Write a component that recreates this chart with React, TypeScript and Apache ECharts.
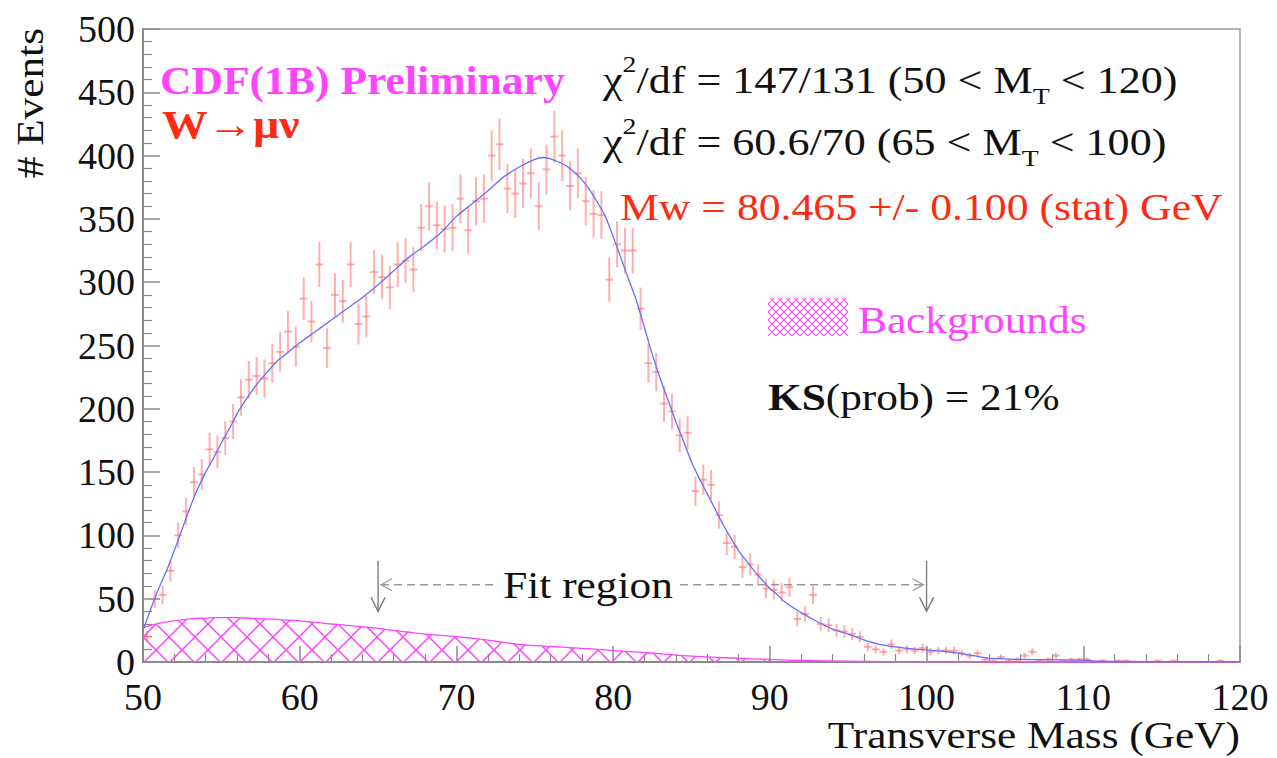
import React, { useEffect, useRef } from 'react';
import * as echarts from 'echarts';

// ---------- DATA ----------
const BIN_START = 50;
const BIN_WIDTH = 0.5;
// event counts per 0.5 GeV bin, 50.0 .. 120.0 GeV
const counts: number[] = [
  20, 50, 53, 72, 100, 119, 142, 148, 168, 166,
  177, 190, 209, 223, 226, 224, 236, 245, 261, 249,
  287, 269, 314, 248, 290, 285, 314, 267, 273, 308,
  304, 296, 314, 317, 310, 343, 360, 345, 342, 343,
  366, 341, 364, 366, 400, 409, 374, 370, 378, 386,
  360, 389, 415, 400, 376, 386, 364, 354, 353, 302,
  330, 325, 325, 279, 236, 229, 204, 198, 179, 181,
  135, 144, 140, 116, 94, 91, 75, 77, 69, 58,
  57, 55, 59, 34, 38, 53, 30, 29, 25, 24,
  22, 20, 12, 10, 8, 14, 9, 10, 9, 11,
  8, 9, 9, 9, 7, 5, 7, 2, 1, 4,
  1, 2, 5, 8, 1, 2, 5, 1, 2, 2,
  2, 0, 1, 0, 1, 1, 0, 0, 0, 1,
  0, 1, 0, 0, 0, 0, 0, 1, 0, 0,
];

// fitted template (blue curve)
const fitX: number[] = [
  50, 50.5, 51, 51.5, 52, 52.5, 53, 53.5, 54, 54.5, 55, 55.5, 56, 56.5, 57, 57.5, 58, 58.5, 59, 59.5,
  60, 61, 62, 63, 64, 65, 66, 67, 68, 69, 70, 71, 72, 73, 74, 75, 75.5, 76, 76.5, 77, 77.5,
  78, 78.5, 79, 79.5, 80, 80.5, 81, 81.5, 82, 82.5, 83, 83.5, 84, 84.5, 85, 85.5, 86, 86.5, 87, 87.5,
  88, 88.5, 89, 89.5, 90, 90.5, 91, 92, 93, 94, 95, 96, 97, 98, 99, 100, 101, 102, 103, 104, 105,
  106, 108, 110, 111, 115, 120,
];
const fitY: number[] = [
  25, 42, 58, 72, 88, 105, 122, 137, 150, 161, 173, 184, 196, 206, 215, 223, 230, 237, 242, 247,
  252, 261, 270, 279, 288, 298, 309, 320, 329, 339, 352, 362, 372, 383, 391, 397, 398.5, 397.5, 395, 392, 387,
  381, 373, 363, 352, 336, 319, 302, 285, 264, 243, 224, 207, 190, 174, 158, 145, 133, 121, 109, 98,
  88, 80, 72, 65, 58, 53, 47, 39, 32, 26, 22, 17.5, 14, 12, 10.5, 9.5, 8.5, 7, 5, 3, 2.5,
  2, 1.8, 1.5, 0.6, 0.3, 0.2,
];

// background estimate (hatched)
const bgX: number[] = [
  50, 51, 52, 53, 54, 55, 56, 57, 58, 59, 60, 61, 62, 63, 64, 65, 66, 67, 68, 69, 70,
  71, 72, 73, 74, 75, 76, 77, 78, 79, 80, 81, 82, 84, 86, 88, 90, 92, 95, 100, 105, 120,
];
const bgY: number[] = [
  27, 30.5, 32.5, 34, 34.7, 35, 35, 34.5, 34, 33.3, 32.5, 31.3, 30, 29, 27.8, 26.5, 25, 23.5, 22, 21, 20,
  18.7, 17.3, 15.5, 14, 13, 12.3, 11.6, 10.8, 10, 9, 8.3, 7.5, 5.5, 4, 3, 2, 1.2, 0.6, 0.2, 0, 0,
];

const X_MIN = 50, X_MAX = 120, X_STEP = 10;
const Y_MIN = 0, Y_MAX = 500, Y_STEP = 50;

// fit region annotation
const fitRegion: number[] = [65, 100];
const ARROW_TOP = 80;
const ARROW_BOTTOM = 40;
const DASH_LEVEL = 61;

const SERIF = '"Liberation Serif", "DejaVu Serif", "Times New Roman", serif';
const MAGENTA = '#ff44ff';
const RED = '#ff2a10';
const STRETCH = 1.14;

function makeHatch(size: number, lineWidth: number, color: string) {
  const c = document.createElement('canvas');
  c.width = size;
  c.height = size;
  const ctx = c.getContext('2d') as CanvasRenderingContext2D;
  ctx.strokeStyle = color;
  ctx.lineWidth = lineWidth;
  ctx.beginPath();
  for (const o of [-size, 0, size]) {
    ctx.moveTo(o - 1, -1);
    ctx.lineTo(o + size + 1, size + 1);
    ctx.moveTo(o + size + 1, -1);
    ctx.lineTo(o - 1, size + 1);
  }
  ctx.stroke();
  return { image: c.toDataURL(), repeat: 'repeat', imageWidth: size, imageHeight: size };
}

export default function App() {
  const ref = useRef<HTMLDivElement>(null);

  useEffect(() => {
    if (!ref.current) return;
    const chart = echarts.init(ref.current, undefined, { renderer: 'svg' });

    const histData = counts
      .map((v, i) => [BIN_START + BIN_WIDTH * (i + 0.5), v])
      .filter((d) => d[1] > 0);
    const fitData = fitX.map((x, i) => [x, fitY[i]]);
    const bgData = bgX.map((x, i) => [x, bgY[i]]);

    const bigHatch = makeHatch(26, 1.5, MAGENTA);
    const smallHatch = makeHatch(8, 1.1, MAGENTA);

    const axisColor = '#8a8a8a';
    const chiRich = {
      b: { fontSize: 38, fontFamily: SERIF, fill: '#111', lineHeight: 56, verticalAlign: 'middle' },
      sup: { fontSize: 24, fontFamily: SERIF, fill: '#111', lineHeight: 56, verticalAlign: 'top' },
      sub: { fontSize: 24, fontFamily: SERIF, fill: '#111', lineHeight: 56, verticalAlign: 'bottom' },
    };

    const option: any = {
      animation: false,
      backgroundColor: '#ffffff',
      grid: {
        left: 143,
        right: 37,
        top: 29,
        bottom: 96,
        show: true,
        borderColor: '#9a9a9a',
        borderWidth: 1.5,
        containLabel: false,
        outerBoundsMode: 'none',
      },
      xAxis: {
        type: 'value',
        min: X_MIN,
        max: X_MAX,
        interval: X_STEP,
        axisLine: { show: true, lineStyle: { color: axisColor, width: 2 } },
        axisTick: { show: true, inside: true, length: 16, lineStyle: { color: axisColor, width: 1.5 } },
        minorTick: { show: true, splitNumber: 5, length: 8, lineStyle: { color: axisColor, width: 1.2 } },
        splitLine: { show: false },
        axisLabel: { fontSize: 38, fontFamily: SERIF, color: '#111', margin: 16 },
      },
      yAxis: {
        type: 'value',
        min: Y_MIN,
        max: Y_MAX,
        interval: Y_STEP,
        axisLine: { show: true, lineStyle: { color: axisColor, width: 2 } },
        axisTick: { show: true, inside: true, length: 17, lineStyle: { color: axisColor, width: 1.5 } },
        minorTick: { show: true, splitNumber: 5, length: 9, lineStyle: { color: axisColor, width: 1.2 } },
        splitLine: { show: false },
        axisLabel: { fontSize: 38, fontFamily: SERIF, color: '#111', margin: 8 },
      },
      series: [
        {
          name: 'Backgrounds',
          type: 'line',
          data: bgData,
          smooth: true,
          symbol: 'none',
          lineStyle: { color: MAGENTA, width: 1.3 },
          areaStyle: { color: bigHatch, opacity: 1 },
          z: 1,
        },
        {
          name: 'data',
          type: 'custom',
          data: histData,
          clip: true,
          z: 2,
          renderItem: (params: any, api: any) => {
            const x = api.value(0);
            const y = api.value(1);
            const err = Math.sqrt(y);
            const c = api.coord([x, y]);
            const t = api.coord([x, y + err]);
            const b = api.coord([x, Math.max(0, y - err)]);
            const l = api.coord([x - BIN_WIDTH / 2, y]);
            const r = api.coord([x + BIN_WIDTH / 2, y]);
            const st = { stroke: 'rgba(255,110,110,0.55)', lineWidth: 2 };
            return {
              type: 'group',
              children: [
                { type: 'line', shape: { x1: c[0], y1: t[1], x2: c[0], y2: b[1] }, style: st },
                { type: 'line', shape: { x1: l[0], y1: c[1], x2: r[0], y2: c[1] }, style: st },
              ],
            };
          },
        },
        {
          name: 'fit',
          type: 'line',
          data: fitData,
          smooth: 0.3,
          symbol: 'none',
          lineStyle: { color: '#6270ff', width: 1.3 },
          z: 3,
        },
        {
          name: 'fitRegion',
          type: 'custom',
          data: [fitRegion],
          clip: false,
          z: 4,
          renderItem: (params: any, api: any) => {
            const lo = api.value(0);
            const hi = api.value(1);
            const st = { stroke: '#777', lineWidth: 1.3, fill: 'none' };
            const dst = { stroke: '#999', lineWidth: 1.3, lineDash: [8, 5], fill: 'none' };
            const children: any[] = [];
            for (const v of [lo, hi]) {
              const top = api.coord([v, ARROW_TOP]);
              const bot = api.coord([v, ARROW_BOTTOM]);
              children.push({ type: 'line', shape: { x1: top[0], y1: top[1], x2: bot[0], y2: bot[1] }, style: st });
              children.push({
                type: 'polyline',
                shape: { points: [[bot[0] - 7, bot[1] - 14], [bot[0], bot[1]], [bot[0] + 7, bot[1] - 14]] },
                style: st,
              });
            }
            const a = api.coord([lo, DASH_LEVEL]);
            const b = api.coord([hi, DASH_LEVEL]);
            children.push({ type: 'line', shape: { x1: a[0] + 3, y1: a[1], x2: b[0] - 3, y2: b[1] }, style: dst });
            children.push({
              type: 'polyline',
              shape: { points: [[a[0] + 14, a[1] - 6], [a[0] + 3, a[1]], [a[0] + 14, a[1] + 6]] },
              style: { stroke: '#999', lineWidth: 1.3, fill: 'none' },
            });
            children.push({
              type: 'polyline',
              shape: { points: [[b[0] - 14, b[1] - 6], [b[0] - 3, b[1]], [b[0] - 14, b[1] + 6]] },
              style: { stroke: '#999', lineWidth: 1.3, fill: 'none' },
            });
            return { type: 'group', children };
          },
        },
      ],
      graphic: [
        {
          type: 'text',
          x: 30,
          y: 28,
          rotation: Math.PI / 2,
          scaleX: STRETCH,
          z: 100,
          style: {
            text: '# Events',
            fontSize: 38,
            fontFamily: SERIF,
            fill: '#111',
            textAlign: 'right',
            textVerticalAlign: 'middle',
          },
        },
        {
          type: 'text',
          x: 1240,
          y: 735,
          scaleX: STRETCH,
          z: 100,
          style: {
            text: 'Transverse Mass (GeV)',
            fontSize: 38,
            fontFamily: SERIF,
            fill: '#111',
            textAlign: 'right',
            textVerticalAlign: 'middle',
          },
        },
        {
          type: 'text',
          x: 160,
          y: 81,
          scaleX: 1.09,
          z: 100,
          style: {
            text: 'CDF(1B) Preliminary',
            fontSize: 40,
            fontWeight: 'bold',
            fontFamily: SERIF,
            fill: MAGENTA,
            textAlign: 'left',
            textVerticalAlign: 'middle',
          },
        },
        {
          type: 'text',
          x: 162,
          y: 124,
          scaleX: STRETCH,
          z: 100,
          style: {
            text: 'W→μν',
            fontSize: 40,
            fontWeight: 'bold',
            fontFamily: SERIF,
            fill: RED,
            textAlign: 'left',
            textVerticalAlign: 'middle',
          },
        },
        {
          type: 'text',
          x: 603,
          y: 80,
          scaleX: 1.16,
          z: 100,
          style: {
            text: '{b|χ}{sup|2}{b|/df = 147/131 (50 < M}{sub|T}{b| < 120)}',
            textAlign: 'left',
            textVerticalAlign: 'middle',
            rich: chiRich,
          },
        },
        {
          type: 'text',
          x: 603,
          y: 142,
          scaleX: 1.16,
          z: 100,
          style: {
            text: '{b|χ}{sup|2}{b|/df = 60.6/70 (65 < M}{sub|T}{b| < 100)}',
            textAlign: 'left',
            textVerticalAlign: 'middle',
            rich: chiRich,
          },
        },
        {
          type: 'text',
          x: 620,
          y: 207,
          scaleX: 1.15,
          z: 100,
          style: {
            text: 'Mw = 80.465 +/- 0.100 (stat) GeV',
            fontSize: 38,
            fontFamily: SERIF,
            fill: RED,
            textAlign: 'left',
            textVerticalAlign: 'middle',
          },
        },
        {
          type: 'rect',
          shape: { x: 768, y: 298, width: 80, height: 38 },
          z: 100,
          style: { fill: smallHatch },
        },
        {
          type: 'text',
          x: 858,
          y: 320,
          scaleX: STRETCH,
          z: 100,
          style: {
            text: 'Backgrounds',
            fontSize: 38,
            fontFamily: SERIF,
            fill: MAGENTA,
            textAlign: 'left',
            textVerticalAlign: 'middle',
          },
        },
        {
          type: 'text',
          x: 768,
          y: 397,
          scaleX: STRETCH,
          z: 100,
          style: {
            text: '{k|KS}{n|(prob) = 21%}',
            textAlign: 'left',
            textVerticalAlign: 'middle',
            rich: {
              k: { fontSize: 38, fontWeight: 'bold', fontFamily: SERIF, fill: '#111' },
              n: { fontSize: 38, fontFamily: SERIF, fill: '#111' },
            },
          },
        },
        {
          type: 'text',
          x: 588,
          y: 585,
          scaleX: STRETCH,
          z: 100,
          style: {
            text: 'Fit region',
            fontSize: 38,
            fontFamily: SERIF,
            fill: '#111',
            textAlign: 'center',
            textVerticalAlign: 'middle',
            backgroundColor: '#ffffff',
            padding: [0, 6],
          },
        },
      ],
    };

    chart.setOption(option);
    return () => {
      chart.dispose();
    };
  }, []);

  return (
    <div
      ref={ref}
      style={{ position: 'fixed', left: 0, top: 0, width: 1277, height: 758, background: '#fff' }}
    />
  );
}
